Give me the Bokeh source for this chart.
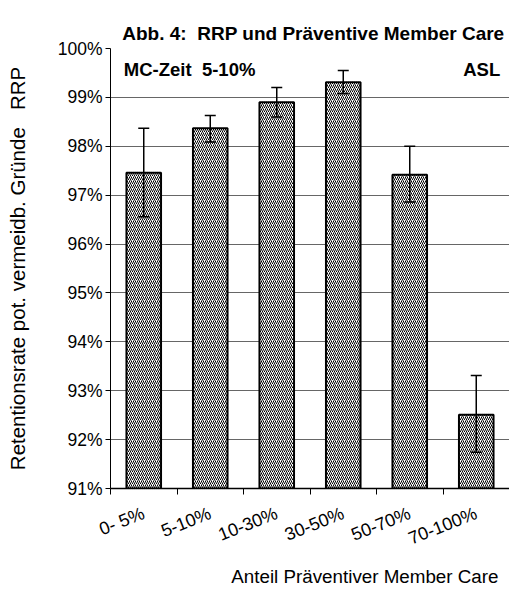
from bokeh.plotting import figure
from bokeh.models import (Range1d, FixedTicker, PrintfTickFormatter, Whisker, TeeHead,
                          ColumnDataSource, Label, Title)
from bokeh.embed import file_html
from bokeh.resources import INLINE

categories = ["0- 5%", "5-10%", "10-30%", "30-50%", "50-70%", "70-100%"]
values = [97.46, 98.37, 98.90, 99.31, 97.42, 92.51]
err_upper = [98.37, 98.63, 99.20, 99.55, 98.00, 93.31]
err_lower = [96.56, 98.09, 98.60, 99.08, 96.86, 91.74]
y_ticks = [91, 92, 93, 94, 95, 96, 97, 98, 99, 100]

FONT = "Liberation Sans"

xs = [i + 0.5 for i in range(len(categories))]
src = ColumnDataSource(dict(x=xs, top=values, upper=err_upper, lower=err_lower))

p = figure(width=509, height=591, output_backend="svg", toolbar_location=None,
           x_range=Range1d(0, len(categories)), y_range=Range1d(y_ticks[0], y_ticks[-1]),
           min_border_left=110, min_border_right=0, min_border_top=48, min_border_bottom=103)
p.outline_line_color = None
p.background_fill_color = "white"
p.border_fill_color = "white"

p.title.text = "Abb. 4: \u00a0RRP und Präventive Member Care"
p.title.align = "right"
p.title.text_font = FONT
p.title.text_font_size = "19px"
p.title.text_font_style = "bold"
p.title.text_color = "black"
p.title.standoff = 10
p.title.offset = 5
p.title.padding = (0, 0, 12, 0)

p.vbar(x="x", top="top", bottom=y_ticks[0], width=0.52, source=src,
       fill_color="white", hatch_pattern="/", hatch_color="black", hatch_scale=4,
       hatch_weight=1, line_color="black", line_width=2)

w = Whisker(source=src, base="x", upper="upper", lower="lower", line_color="black",
            line_width=1.5, level="overlay",
            upper_head=TeeHead(size=11, line_width=1.5, line_color="black"),
            lower_head=TeeHead(size=11, line_width=1.5, line_color="black"))
p.add_layout(w)

# y axis
p.yaxis.ticker = FixedTicker(ticks=y_ticks)
p.yaxis.formatter = PrintfTickFormatter(format="%d%%")
p.yaxis.major_tick_out = 5
p.yaxis.major_tick_in = 0
p.yaxis.minor_tick_line_color = None
p.yaxis.major_label_standoff = 3
p.yaxis.major_label_text_font = FONT
p.yaxis.major_label_text_font_size = "17.5px"
p.yaxis.major_label_text_color = "black"
p.yaxis.axis_line_color = "black"
p.yaxis.axis_label = "Retentionsrate pot. vermeidb. Gründe \u00a0\u00a0RRP"
p.yaxis.axis_label_text_font = FONT
p.yaxis.axis_label_text_font_size = "20.5px"
p.yaxis.axis_label_text_font_style = "normal"
p.yaxis.axis_label_text_color = "black"
p.yaxis.axis_label_standoff = 26

p.ygrid.ticker = FixedTicker(ticks=y_ticks)
p.ygrid.grid_line_color = "#666666"
p.xgrid.grid_line_color = None

# x axis: labels at centres, tick marks at category boundaries
p.xaxis.ticker = FixedTicker(ticks=xs, minor_ticks=list(range(len(categories) + 1)))
p.xaxis.major_label_overrides = {x: c for x, c in zip(xs, categories)}
p.xaxis.major_tick_line_color = None
p.xaxis.minor_tick_out = 6
p.xaxis.minor_tick_in = 0
p.xaxis.minor_tick_line_color = "black"
p.xaxis.axis_line_color = "black"
p.xaxis.axis_line_width = 1.5
p.xaxis.major_label_orientation = 0.38
p.xaxis.major_label_standoff = 18
p.xaxis.major_label_text_font = FONT
p.xaxis.major_label_text_font_size = "18px"
p.xaxis.major_label_text_color = "black"

xt = Title(text="Anteil Präventiver Member Care", align="right", text_font=FONT,
           text_font_size="18.8px", text_font_style="normal", text_color="black",
           offset=11, standoff=7)
p.add_layout(xt, "below")

p.add_layout(Label(x=0.2, y=99.58, text="MC-Zeit \u00a05-10%", text_font=FONT,
                   text_font_size="18.5px", text_font_style="bold", text_baseline="middle",
                   text_color="black"))
p.add_layout(Label(x=5.86, y=99.58, text="ASL", text_font=FONT,
                   text_font_size="18.5px", text_font_style="bold", text_baseline="middle",
                   text_align="right", text_color="black"))

open("out.html", "w").write(file_html(p, INLINE))
